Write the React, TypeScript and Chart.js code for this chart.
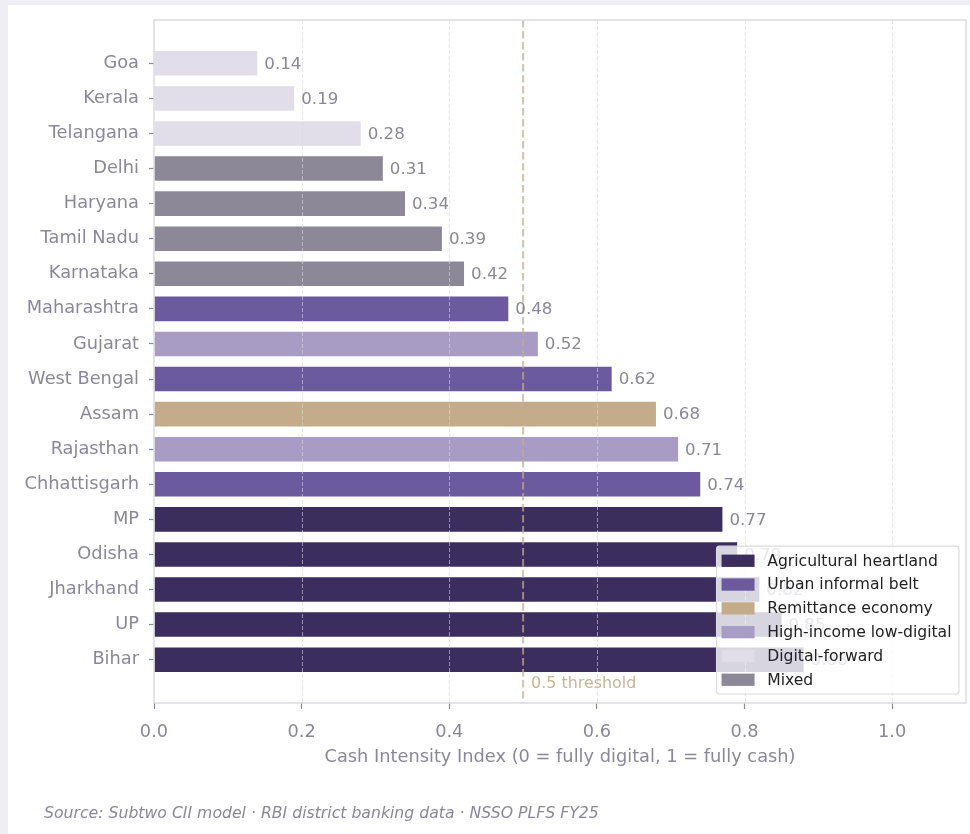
import React, { useEffect, useRef } from 'react';
import { Chart, registerables } from 'chart.js';

Chart.register(...registerables);

const states = ['Goa', 'Kerala', 'Telangana', 'Delhi', 'Haryana', 'Tamil Nadu', 'Karnataka', 'Maharashtra', 'Gujarat', 'West Bengal', 'Assam', 'Rajasthan', 'Chhattisgarh', 'MP', 'Odisha', 'Jharkhand', 'UP', 'Bihar'];
const cii = [0.14, 0.19, 0.28, 0.31, 0.34, 0.39, 0.42, 0.48, 0.52, 0.62, 0.68, 0.71, 0.74, 0.77, 0.79, 0.82, 0.85, 0.88];
const stateArchetype = [
  'Digital-forward', 'Digital-forward', 'Digital-forward',
  'Mixed', 'Mixed', 'Mixed', 'Mixed',
  'Urban informal belt', 'High-income low-digital', 'Urban informal belt',
  'Remittance economy', 'High-income low-digital', 'Urban informal belt',
  'Agricultural heartland', 'Agricultural heartland', 'Agricultural heartland', 'Agricultural heartland', 'Agricultural heartland',
];
const archetypes = ['Agricultural heartland', 'Urban informal belt', 'Remittance economy', 'High-income low-digital', 'Digital-forward', 'Mixed'];
const archetypeColors = ['#3b2d5e', '#6b5a9e', '#c4ac8a', '#a99cc4', '#e1dee9', '#8c8898'];
const xTicks = [0, 0.2, 0.4, 0.6, 0.8, 1.0];
const threshold = 0.5;
const thresholdLabel = '0.5 threshold';
const xTitle = 'Cash Intensity Index (0 = fully digital, 1 = fully cash)';
const sourceText = 'Source: Subtwo CII model · RBI district banking data · NSSO PLFS FY25';

const FONT = 'DejaVu Sans';
const GREY = '#8b879a';

const colorFor = (name: string) => archetypeColors[archetypes.indexOf(name)];

const overlay = {
  id: 'overlay',
  afterDatasetsDraw(chart: any) {
    const { ctx, chartArea: ca, scales } = chart;
    const x = scales.x;
    const y = scales.y;
    ctx.save();
    // grid lines (drawn above the bars)
    ctx.strokeStyle = 'rgba(215,212,226,0.6)';
    ctx.lineWidth = 1;
    ctx.setLineDash([4, 2]);
    xTicks.forEach((v) => {
      if (v === 0) return;
      const px = Math.round(x.getPixelForValue(v)) + 0.5;
      ctx.beginPath();
      ctx.moveTo(px, ca.top);
      ctx.lineTo(px, ca.bottom);
      ctx.stroke();
    });
    // threshold
    const tx = x.getPixelForValue(threshold);
    ctx.strokeStyle = 'rgba(196,172,138,0.72)';
    ctx.lineWidth = 2;
    ctx.setLineDash([7.5, 3.5]);
    ctx.beginPath();
    ctx.moveTo(tx, ca.top);
    ctx.lineTo(tx, ca.bottom);
    ctx.stroke();
    ctx.setLineDash([]);
    ctx.fillStyle = '#c9b595';
    ctx.font = `15.9px "${FONT}"`;
    ctx.textAlign = 'left';
    ctx.textBaseline = 'middle';
    ctx.fillText(thresholdLabel, tx + 8, y.getPixelForValue(17.7));
    // value labels
    const meta = chart.getDatasetMeta(0);
    ctx.fillStyle = GREY;
    ctx.font = `16.67px "${FONT}"`;
    meta.data.forEach((bar: any, i: number) => {
      ctx.fillText(cii[i].toFixed(2), bar.x + 7, bar.y + 1);
    });
    // spines
    ctx.strokeStyle = '#dcdae4';
    ctx.lineWidth = 1.5;
    ctx.strokeRect(ca.left, ca.top, ca.right - ca.left, ca.bottom - ca.top);
    ctx.restore();
  },
  afterDraw(chart: any) {
    const { ctx, chartArea: ca } = chart;
    ctx.save();
    // legend
    ctx.font = `15.6px "${FONT}"`;
    const textW = Math.max(...archetypes.map((a) => ctx.measureText(a).width));
    const padL = 5, patchW = 33, gap = 12.7, padR = 7.5, rowH = 23.8, padT = 1.5;
    const boxW = padL + patchW + gap + textW + padR;
    const boxH = padT * 2 + rowH * archetypes.length + 2;
    const bx = ca.right - 7 - boxW;
    const by = ca.bottom - 9 - boxH;
    ctx.fillStyle = 'rgba(255,255,255,0.8)';
    ctx.strokeStyle = '#dcdae4';
    ctx.lineWidth = 1.2;
    ctx.beginPath();
    ctx.roundRect(bx, by, boxW, boxH, 3);
    ctx.fill();
    ctx.stroke();
    ctx.textBaseline = 'middle';
    ctx.textAlign = 'left';
    archetypes.forEach((a, i) => {
      const cy = by + padT + 1 + rowH * (i + 0.5);
      ctx.fillStyle = archetypeColors[i];
      ctx.fillRect(bx + padL, cy - 6, patchW, 12.3);
      ctx.fillStyle = '#222222';
      ctx.fillText(a, bx + padL + patchW + gap, cy + 1);
    });
    // source
    ctx.fillStyle = GREY;
    ctx.font = `italic 15.7px "${FONT}"`;
    ctx.fillText(sourceText, 36, 809);
    ctx.restore();
  },
};

export default function App() {
  const ref = useRef<HTMLCanvasElement | null>(null);
  useEffect(() => {
    if (!ref.current) return;
    const chart = new Chart(ref.current, {
      type: 'bar',
      data: {
        datasets: [
          {
            data: cii.map((v, i) => ({ x: v, y: i })),
            backgroundColor: stateArchetype.map(colorFor),
            barPercentage: 0.7,
            categoryPercentage: 1,
            borderWidth: 0,
          },
        ],
      },
      options: {
        indexAxis: 'y',
        responsive: false,
        animation: false,
        devicePixelRatio: 1,
        layout: { padding: { top: 15, right: 4, left: 0, bottom: 0 } },
        plugins: { legend: { display: false }, tooltip: { enabled: false } },
        scales: {
          x: {
            type: 'linear',
            min: 0,
            max: 1.1,
            afterBuildTicks: (s: any) => {
              s.ticks = xTicks.map((v) => ({ value: v }));
            },
            afterFit: (s: any) => {
              s.height = 131;
              s.paddingLeft = 0;
              s.paddingRight = 0;
            },
            ticks: {
              color: GREY,
              font: { family: FONT, size: 17.8 },
              padding: 13,
              callback: (v: any) => Number(v).toFixed(1),
            },
            grid: { display: true, drawOnChartArea: false, drawTicks: true, tickLength: 6, tickColor: GREY, tickWidth: 1.2 },
            border: { display: false },
            title: {
              display: true,
              text: xTitle,
              color: GREY,
              font: { family: FONT, size: 17.8 },
              padding: { top: 0, bottom: 66 },
            },
          },
          y: {
            type: 'linear',
            reverse: true,
            offset: false,
            min: -1.235,
            max: 18.235,
            afterBuildTicks: (s: any) => {
              s.ticks = states.map((_, i) => ({ value: i }));
            },
            afterFit: (s: any) => {
              s.width = 146;
              s.paddingTop = 0;
              s.paddingBottom = 0;
            },
            ticks: {
              color: GREY,
              autoSkip: false,
              font: { family: FONT, size: 17.8 },
              padding: 10,
              callback: (v: any) => states[v] ?? '',
            },
            grid: { display: true, offset: false, drawOnChartArea: false, drawTicks: true, tickLength: 5, tickColor: GREY, tickWidth: 1.2 },
            border: { display: false },
          },
        },
      },
      plugins: [overlay],
    } as any);
    return () => chart.destroy();
  }, []);
  return (
    <div style={{ position: 'fixed', left: 0, top: 0, right: 0, bottom: 0, background: '#efeef4' }}>
      <div style={{ position: 'absolute', left: 8, top: 5, width: 962, height: 829, background: '#ffffff' }}>
        <canvas ref={ref} width={962} height={829} style={{ width: 962, height: 829, display: 'block' }} />
      </div>
    </div>
  );
}
